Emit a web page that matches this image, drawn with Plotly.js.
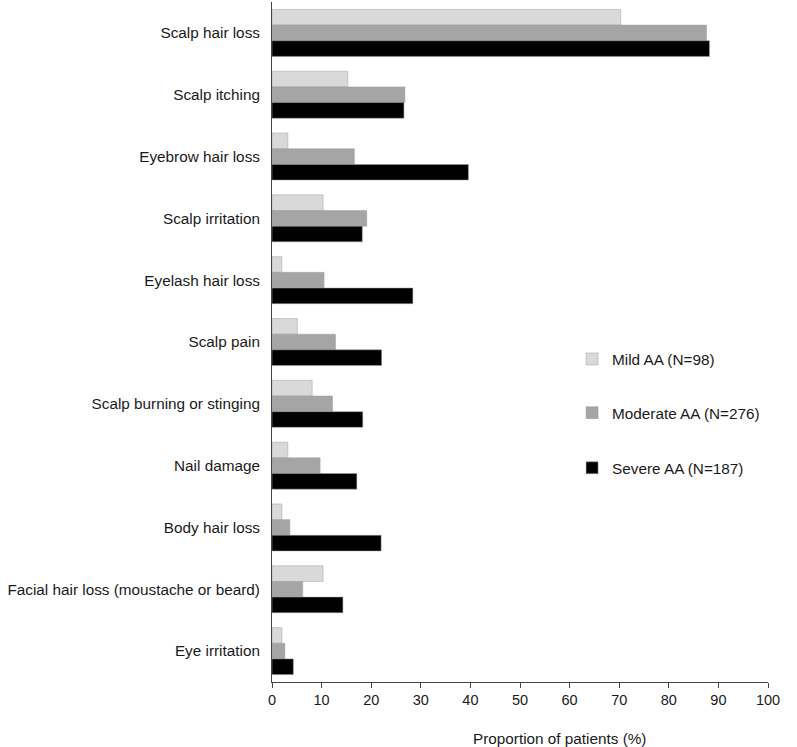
<!DOCTYPE html>
<html>
<head>
<meta charset="utf-8">
<script src="https://cdn.plot.ly/plotly-3.0.1.min.js"></script>
<style>
  body { margin: 0; background: #fff; }
  #chart { width: 797px; height: 747px; }
</style>
</head>
<body>
<div id="chart"></div>
<script>
// symptoms, top to bottom
var symptoms = [
    'Scalp hair loss',
    'Scalp itching',
    'Eyebrow hair loss',
    'Scalp irritation',
    'Eyelash hair loss',
    'Scalp pain',
    'Scalp burning or stinging',
    'Nail damage',
    'Body hair loss',
    'Facial hair loss (moustache or beard)',
    'Eye irritation'
];

// proportion of patients (%)
var mild = [70.3, 15.3, 3.2, 10.3, 2.0, 5.1, 8.1, 3.2, 2.0, 10.3, 2.0];
var moderate = [87.6, 26.8, 16.6, 19.1, 10.5, 12.8, 12.2, 9.7, 3.6, 6.2, 2.6];
var severe = [88.2, 26.6, 39.6, 18.2, 28.4, 22.1, 18.3, 17.1, 22.0, 14.3, 4.3];

var seriesNames = ['Mild AA (N=98)', 'Moderate AA (N=276)', 'Severe AA (N=187)'];
var xTicks = [0, 10, 20, 30, 40, 50, 60, 70, 80, 90, 100];

function barTrace(values, name, color, legendId) {
    return {
        type: 'bar',
        orientation: 'h',
        x: values,
        y: symptoms,
        name: name,
        legend: legendId,
        marker: { color: color, line: { color: '#a0a0a0', width: 0.5 } },
        hoverinfo: 'x+name'
    };
}

var data = [
    barTrace(mild, seriesNames[0], '#d9d9d9', 'legend'),
    barTrace(moderate, seriesNames[1], '#a5a5a5', 'legend2'),
    barTrace(severe, seriesNames[2], '#000000', 'legend3')
];

var legendStyle = function (y) {
    return {
        x: 0.605, y: y, xanchor: 'left', yanchor: 'middle',
        bgcolor: 'rgba(0,0,0,0)',
        font: { size: 15.3, color: '#1a1a1a' },
        itemwidth: 30
    };
};

var layout = {
    width: 797,
    height: 747,
    margin: { l: 272, r: 29, t: 2, b: 65 },
    paper_bgcolor: '#ffffff',
    plot_bgcolor: '#ffffff',
    font: { family: 'Liberation Sans, Arial, sans-serif', size: 15.3, color: '#1a1a1a' },
    barmode: 'group',
    bargap: 0.24,
    bargroupgap: 0,
    xaxis: {
        range: [0, 100],
        tickvals: xTicks,
        ticks: 'outside',
        ticklen: 5,
        tickcolor: '#444',
        tickfont: { size: 14.5 },
        showline: true,
        linecolor: '#444',
        linewidth: 1,
        showgrid: false,
        zeroline: false,
        fixedrange: true
    },
    yaxis: {
        autorange: 'reversed',
        showline: true,
        linecolor: '#444',
        linewidth: 1,
        ticks: '',
        ticklabelstandoff: 8,
        showgrid: false,
        zeroline: false
    },
    annotations: [{
        text: 'Proportion of patients (%)',
        xref: 'paper', yref: 'paper',
        x: 0.58, y: 0, yshift: -56,
        xanchor: 'center', yanchor: 'middle',
        showarrow: false,
        font: { size: 15.3, color: '#1a1a1a' }
    }],
    showlegend: true,
    legend: legendStyle(0.475),
    legend2: legendStyle(0.396),
    legend3: legendStyle(0.315)
};

Plotly.newPlot('chart', data, layout, { displayModeBar: false, staticPlot: true });
</script>
</body>
</html>
